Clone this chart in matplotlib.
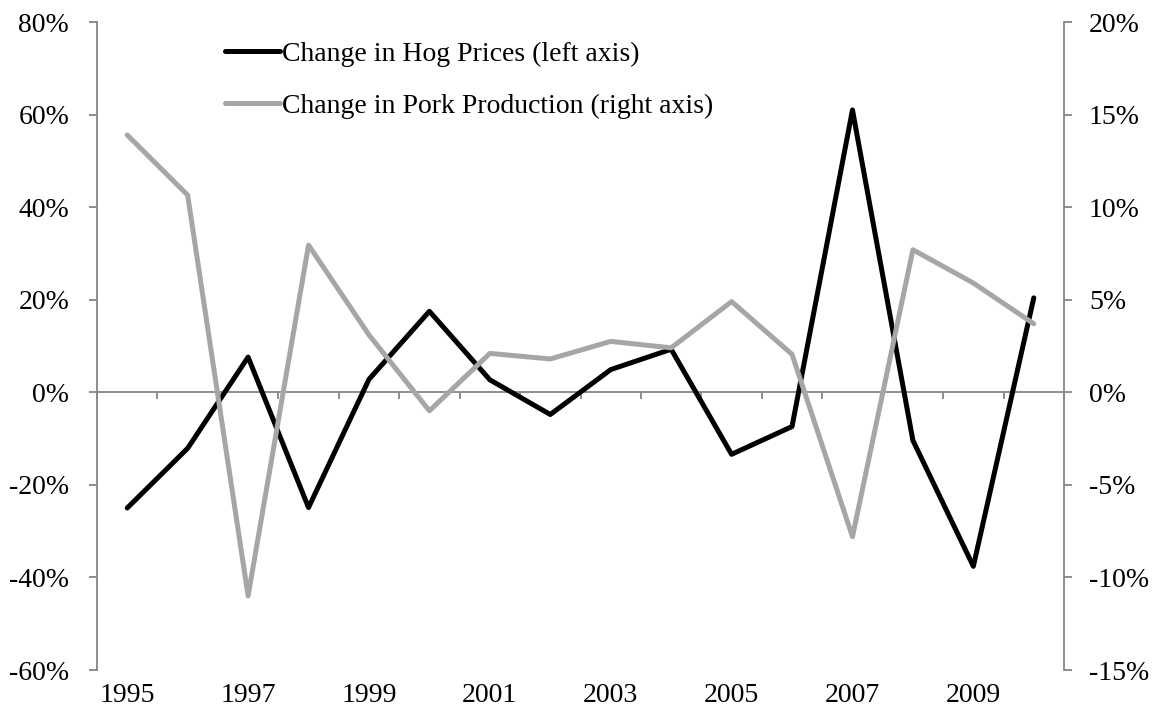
import matplotlib
matplotlib.use("Agg")
import matplotlib.pyplot as plt
from matplotlib.ticker import FuncFormatter, MultipleLocator
import numpy as np

years = list(range(1995, 2011))
hog_prices = [-25.0, -12.1, 7.6, -24.9, 2.8, 17.5, 2.7, -4.8, 4.9, 9.3,
              -13.4, -7.4, 61.0, -10.4, -37.6, 20.4]
pork_production = [13.9, 10.65, -11.0, 7.95, 3.1, -1.0, 2.1, 1.8, 2.75, 2.4,
                   4.9, 2.05, -7.8, 7.7, 5.9, 3.7]
label_years = list(range(1995, 2010, 2))
legend_labels = ["Change in Hog Prices (left axis)",
                 "Change in Pork Production (right axis)"]

plt.rcParams['font.family'] = ['Liberation Serif', 'DejaVu Serif']
FS = 20
AXIS_GRAY = '#868686'
LINE_GRAY = '#A6A6A6'

fig = plt.figure(figsize=(11.56, 7.23), dpi=100)
ax = fig.add_axes([97/1156, 1 - 670/723, (1064 - 97)/1156, (670 - 22)/723])
ax2 = ax.twinx()

l1, = ax.plot(years, hog_prices, color='black', lw=3.6, solid_joinstyle='round',
              solid_capstyle='round', zorder=3)
l2, = ax2.plot(years, pork_production, color=LINE_GRAY, lw=3.6,
               solid_joinstyle='round', solid_capstyle='round', zorder=3)

ax.set_xlim(years[0] - 0.5, years[-1] + 0.5)
ax.set_ylim(-60, 80)
ax2.set_ylim(-15, 20)
ax.yaxis.set_major_locator(MultipleLocator(20))
ax2.yaxis.set_major_locator(MultipleLocator(5))
pct = FuncFormatter(lambda v, p: f"{v:.0f}%")
ax.yaxis.set_major_formatter(pct)
ax2.yaxis.set_major_formatter(pct)

for a in (ax, ax2):
    a.spines['top'].set_visible(False)
    for s in a.spines.values():
        s.set_color(AXIS_GRAY)
        s.set_linewidth(1.3)
ax2.spines['bottom'].set_visible(False)
ax2.spines['left'].set_visible(False)
ax.spines['right'].set_visible(False)

ax.tick_params(axis='y', direction='out', length=6, width=1.3, color=AXIS_GRAY,
               labelsize=FS, pad=14)
ax2.tick_params(axis='y', direction='out', length=6, width=1.3, color=AXIS_GRAY,
                labelsize=FS, pad=12)

# zero line with category boundary ticks
ax.spines['bottom'].set_position(('data', 0))
bounds = np.arange(years[0] - 0.5, years[-1] + 1.0, 1.0)
ax.set_xticks(bounds)
ax.set_xticklabels([])
ax.tick_params(axis='x', direction='out', length=5, width=1.3, color=AXIS_GRAY)

sec = ax.secondary_xaxis(0.0)
sec.set_xticks(label_years)
sec.set_xticklabels([str(y) for y in label_years])
sec.tick_params(length=0, labelsize=FS, pad=9)
sec.spines['bottom'].set_visible(False)

leg = ax2.legend([l1, l2], legend_labels, loc='upper left',
                 bbox_to_anchor=(0.132, 0.97), frameon=False, fontsize=FS,
                 handlelength=2.0, handletextpad=0.05, labelspacing=0.96,
                 borderpad=0, borderaxespad=0)

fig.savefig("out.png", dpi=100)
